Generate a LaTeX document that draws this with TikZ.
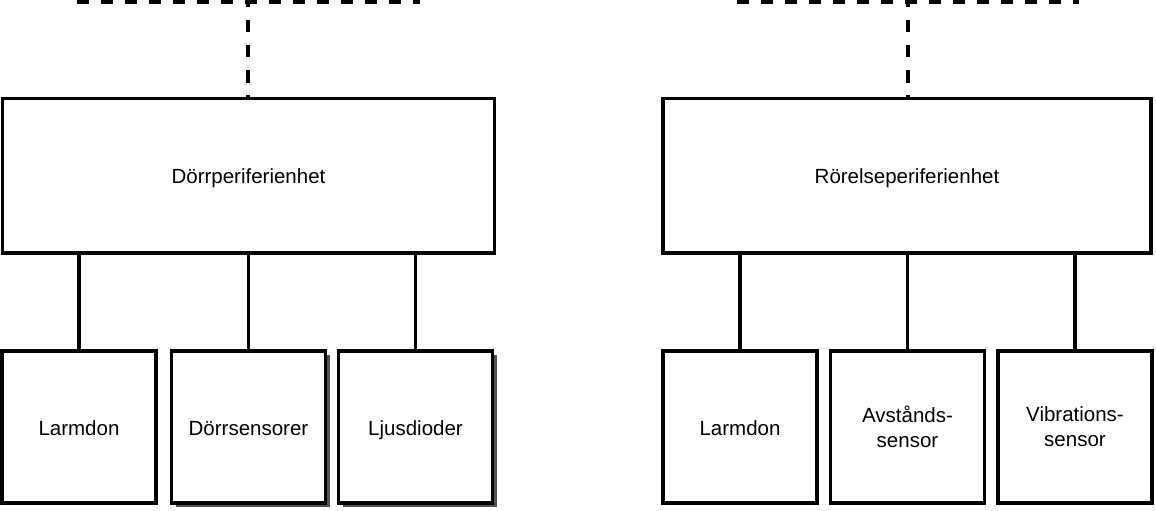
\documentclass[tikz,border=0pt]{standalone}
\usepackage{fontspec}
\setmainfont{Liberation Sans}
\usetikzlibrary{shadows}
\begin{document}
\begin{tikzpicture}[x=1pt,y=-1pt,
  bigbox/.style={draw=black,line width=3.5pt,fill=white,rectangle,inner sep=0pt,
     minimum height=154.5pt,text height=16pt,text depth=-5pt,font=\fontsize{20.5}{25}\selectfont},
  smallbox/.style={draw=black,line width=3.5pt,fill=white,rectangle,inner sep=0pt,
     minimum width=154pt,minimum height=152pt,align=center,font=\fontsize{20.5}{25}\selectfont},
  oneline/.style={text height=16pt,text depth=-1pt},
  shadowed/.style={drop shadow={shadow xshift=4pt,shadow yshift=-4pt,fill=black!68,opacity=1}},
  conn/.style={draw=black,line width=3.5pt},
  busline/.style={draw=black,line width=3.5pt,dash pattern=on 12pt off 12pt},
  busdrop/.style={draw=black,line width=3.5pt,dash pattern=on 12.5pt off 12.5pt,dash phase=7pt}]
\useasboundingbox (0,0) rectangle (1156,511);
% big boxes
\node[bigbox,minimum width=492pt] (big1) at (248.5,175.75) {Dörrperiferienhet};
\node[bigbox,minimum width=488pt] (big2) at (907,175.75) {Rörelseperiferienhet};
% small boxes
\node[smallbox,oneline] (a1) at (79,427) {Larmdon};
\node[smallbox,oneline,shadowed] (a2) at (248.5,427) {Dörrsensorer};
\node[smallbox,oneline,shadowed] (a3) at (415.5,427) {Ljusdioder};
\node[smallbox,oneline] (b1) at (740,427) {Larmdon};
\node[smallbox] (b2) at (907.5,427) {Avstånds-\\sensor};
\node[smallbox] (b3) at (1075,427) {Vibrations-\\sensor};
% connectors
\foreach \s in {a1,a2,a3} {\draw[conn] (\s.north) -- (\s.north |- big1.south);}
\foreach \s in {b1,b2,b3} {\draw[conn] (\s.north) -- (\s.north |- big2.south);}
% dashed bus lines
\coordinate (lbusL) at (77,2);
\coordinate (lbusR) at (420,2);
\coordinate (lbusT) at (248,2);
\coordinate (rbusL) at (737,2);
\coordinate (rbusR) at (1079,2);
\coordinate (rbusT) at (908,2);
\draw[busline] (lbusL) -- (lbusR);
\draw[busline] (rbusL) -- (rbusR);
\draw[busdrop] (lbusT) -- (lbusT |- big1.north);
\draw[busdrop] (rbusT) -- (rbusT |- big2.north);
\end{tikzpicture}
\end{document}
